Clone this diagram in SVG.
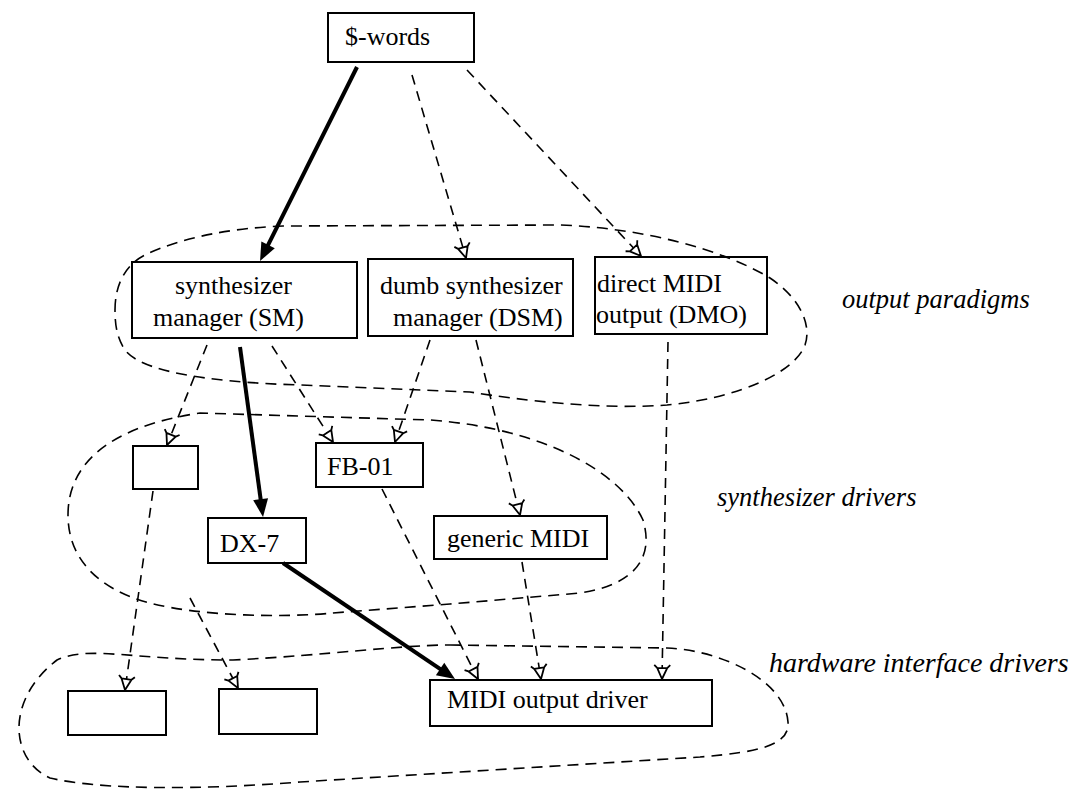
<svg xmlns="http://www.w3.org/2000/svg" width="1071" height="789" viewBox="0 0 1071 789">
<style>
  .box { fill: #fff; stroke: #000; stroke-width: 2; }
  .t { font-family: "Liberation Serif", "Times New Roman", serif; font-size: 26px; fill: #000; }
  .lbl { font-family: "Liberation Serif", "Times New Roman", serif; font-style: italic; fill: #000; }
  .grp { fill: none; stroke: #000; stroke-width: 1.6; stroke-dasharray: 11 7; }
  .dash { fill: none; stroke: #000; stroke-width: 1.6; stroke-dasharray: 10 7; marker-end: url(#openArrow); }
  .bold { fill: none; stroke: #000; stroke-width: 4; marker-end: url(#solidArrow); }
</style>
<defs>
  <marker id="openArrow" markerUnits="userSpaceOnUse" viewBox="-15 -9 17 18" refX="0" refY="0" markerWidth="17" markerHeight="18" orient="auto" overflow="visible">
    <path d="M0,0 L-11,-5 L-11,5 Z M-11,-5 L-14,-8 M-11,5 L-14,8" fill="#fff" stroke="#000" stroke-width="1.8" stroke-linejoin="round"/>
  </marker>
  <marker id="solidArrow" markerUnits="userSpaceOnUse" viewBox="-9 -8 20 16" refX="0" refY="0" markerWidth="20" markerHeight="16" orient="auto" overflow="visible">
    <path d="M10,0 L-8,-7.5 L-8,7.5 Z" fill="#000"/>
  </marker>
</defs>

<g id="node-swords">
  <rect class="box" x="328" y="13" width="146" height="49"/>
  <text class="t" x="345" y="45">$-words</text>
</g>
<g id="node-sm">
  <rect class="box" x="132" y="262" width="225" height="76"/>
  <text class="t" x="175" y="294">synthesizer</text>
  <text class="t" x="153" y="326">manager (SM)</text>
</g>
<g id="node-dsm">
  <rect class="box" x="368" y="259" width="205" height="77"/>
  <text class="t" x="380" y="294">dumb synthesizer</text>
  <text class="t" x="393" y="326">manager (DSM)</text>
</g>
<g id="node-dmo">
  <rect class="box" x="595" y="257" width="172" height="77"/>
  <text class="t" x="597" y="292">direct MIDI</text>
  <text class="t" x="596" y="323">output (DMO)</text>
</g>
<g id="node-empty1">
  <rect class="box" x="133" y="446" width="65" height="43"/>
</g>
<g id="node-fb01">
  <rect class="box" x="316" y="443" width="107" height="44"/>
  <text class="t" x="327" y="475">FB-01</text>
</g>
<g id="node-dx7">
  <rect class="box" x="208" y="518" width="98" height="45"/>
  <text class="t" x="220" y="552">DX-7</text>
</g>
<g id="node-generic">
  <rect class="box" x="434" y="516" width="173" height="43"/>
  <text class="t" x="447" y="547">generic MIDI</text>
</g>
<g id="node-hwA">
  <rect class="box" x="68" y="691" width="98" height="44"/>
</g>
<g id="node-hwB">
  <rect class="box" x="219" y="689" width="98" height="45"/>
</g>
<g id="node-midiout">
  <rect class="box" x="430" y="680" width="282" height="46"/>
  <text class="t" x="447" y="708">MIDI output driver</text>
</g>

<g id="groups">
  <path id="grp-output" class="grp" d="M115,310 C115,285 125,265 145,255 C180,238 230,228 283,226 L560,225 C640,228 720,248 770,278 C800,298 812,325 805,345 C795,372 740,398 667,405 C600,410 520,400 470,392 L300,385 C200,382 140,370 125,350 C117,338 115,325 115,310 Z"/>
  <path id="grp-synth" class="grp" d="M68,515 C68,470 100,428 200,413 L430,420 C540,428 620,470 643,520 C655,560 632,585 580,593 L450,604 L333,613 C280,618 200,616 150,603 C100,590 68,560 68,515 Z"/>
  <path id="grp-hw" class="grp" d="M450,645 L667,648 C720,650 785,680 788,722 C790,745 760,752 700,757 L300,782 C200,790 100,790 50,778 C10,760 5,700 57,660 C90,645 130,660 233,660 C330,655 400,645 450,645 Z"/>
  <text class="lbl" x="842" y="308" font-size="26.5">output paradigms</text>
  <text class="lbl" x="717" y="506" font-size="26.5">synthesizer drivers</text>
  <text class="lbl" x="769" y="672" font-size="28">hardware interface drivers</text>
</g>

<g id="connectors">
  <line class="bold" x1="357" y1="67" x2="264.5" y2="252.1"/>
  <line class="bold" x1="240" y1="347" x2="261.7" y2="507.1"/>
  <line class="bold" x1="283" y1="563" x2="446.7" y2="673.4"/>
  <line class="dash" x1="412" y1="75" x2="466" y2="258"/>
  <line class="dash" x1="467" y1="70" x2="641" y2="256"/>
  <line class="dash" x1="207" y1="345" x2="167" y2="445"/>
  <line class="dash" x1="272" y1="346" x2="333" y2="442"/>
  <line class="dash" x1="430" y1="340" x2="395" y2="442"/>
  <line class="dash" x1="476" y1="340" x2="520" y2="515"/>
  <line class="dash" x1="668" y1="342" x2="662" y2="679"/>
  <line class="dash" x1="522" y1="562" x2="541" y2="679"/>
  <line class="dash" x1="382" y1="489" x2="478" y2="679"/>
  <line class="dash" x1="153" y1="491" x2="125" y2="690"/>
  <line class="dash" x1="190" y1="598" x2="238" y2="688"/>
</g>
</svg>
